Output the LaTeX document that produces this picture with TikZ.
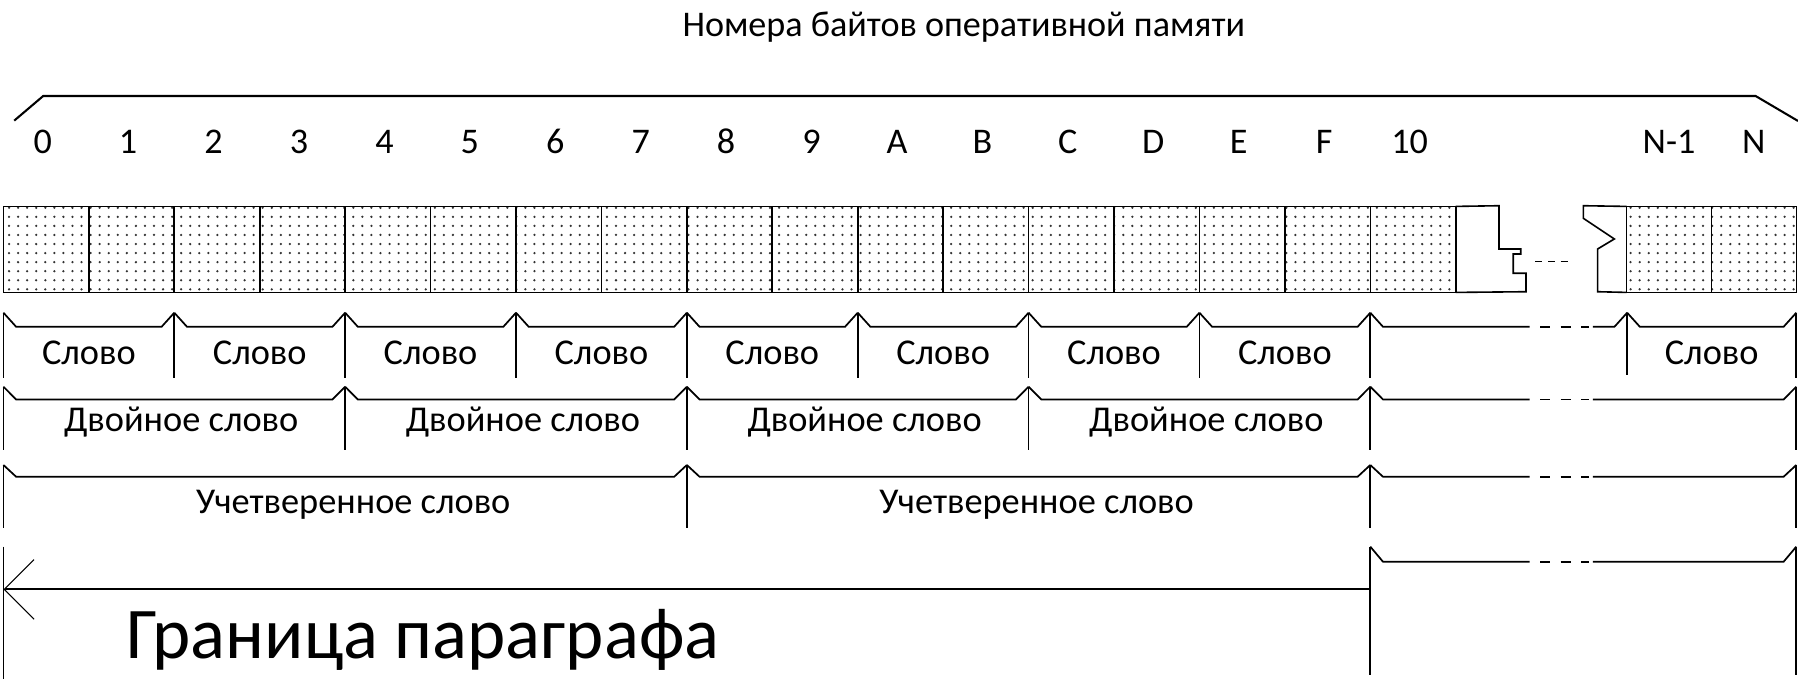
\documentclass[tikz,border=0pt]{standalone}
\usepackage{fontspec}
\setmainfont{Carlito}
\usetikzlibrary{positioning,patterns.meta,arrows.meta}

\tikzset{
	cell/.style={draw,line width=1.4pt,minimum width=74.5pt,minimum height=75pt,inner sep=0pt,outer sep=0pt,
		pattern={Dots[radius=1.1pt,distance=7.9pt]},pattern color=black!80},
	idx/.style={inner sep=0pt,font=\fontsize{31.5}{36}\selectfont},
	lbl/.style={inner sep=0pt,anchor=base,font=\fontsize{31.7}{36}\selectfont},
	brk/.style={line width=1.5pt,line join=miter},
	gap/.style={line width=1.5pt,dash pattern=on 9pt off 9pt}
}

% span of one unit: x1, x2, peak y, line y
\newcommand{\spanline}[4]{\draw[brk] ({#1},{#3}) -- ({#1+11},{#4}) -- ({#2-11},{#4}) -- ({#2},{#3});}
% vertical tick: x, top, bottom
\newcommand{\vtick}[3]{\draw[brk] ({#1},{#2}) -- ({#1},{#3});}
% right part after 10 with the gap: peak y, line y
\newcommand{\gapline}[2]{
	\draw[brk] (1195,#1) -- (1206,#2) -- (1334,#2);
	\draw[gap] (1343,#2) -- (1386,#2);
}
% right end after the gap: peak y, line y
\newcommand{\tailline}[2]{\draw[brk] (1389,#2) -- (1555.5,#2) -- (1566.5,#1);}

\begin{document}
\begin{tikzpicture}[x=1pt,y=-1pt]
	\useasboundingbox (0,0) rectangle (1568,592);

	\node[anchor=base,inner sep=0pt,font=\fontsize{31.5}{36}\selectfont] (title) at (840.5,32) {Номера байтов оперативной памяти};
	\draw[line width=1.8pt] (12.4,105.2) -- (37.7,83.7) -- (1531,83.7) -- (1568,105.5);

	% bytes
	\foreach \i/\t in {0/0,1/1,2/2,3/3,4/4,5/5,6/6,7/7,8/8,9/9,10/A,11/B,12/C,13/D,14/E,15/F,16/10}{
		\node[cell] (c\i) at ({3+74.5*\i+37.25},217.5) {};
		\node[idx,above=46pt of c\i,xshift=-3pt] (l\i) {\t};
	}
	\node[cell,minimum width=74pt] (cn1) at (1455.5,217.5) {};
	\node[cell,minimum width=74pt,right=0pt of cn1] (cn) {};
	\node[idx,above=46pt of cn1] (ln1) {N-1};
	\node[idx,above=46pt of cn] (ln) {N};

	% broken ends
	\draw[line width=1.4pt] (c16.north east) -- (1307.2,179.4) -- (1307.2,217.1) -- (1326.2,217.1) -- (1326.2,221.5)
		-- (1319.7,221.5) -- (1319.7,238.3) -- (1330.8,238.3) -- (1330.8,254.4) -- (c16.south east);
	\draw[line width=1.4pt] (cn1.north west) -- (1380.8,179.4) -- (1380.8,190.4) -- (1407.8,208.4) -- (1393.3,217.1)
		-- (1393.3,254.4) -- (cn1.south west);
	\draw[line width=1.4pt,dash pattern=on 6pt off 5pt] (1339,228) -- (1368,228);

	% words
	\foreach \k in {0,...,7}{
		\spanline{3+149*\k}{3+149*(\k+1)}{272.7}{284.9}
		\node[lbl] (w\k) at ({3+149*\k+74.5},318.3) {Слово};
	}
	\foreach \k in {0,...,8}{\vtick{3+149*\k}{272.7}{330}}
	\gapline{272.7}{284.9}
	\draw[brk] (1389,284.9) -- (1408,284.9) -- (1419,272.7);
	\vtick{1419}{272.7}{327}
	\spanline{1419}{1566.5}{272.7}{284.9}
	\vtick{1566.5}{272.7}{330}
	\node[lbl] (wn) at (1492.7,318.3) {Слово};

	% double words
	\foreach \k in {0,...,3}{
		\spanline{3+298*\k}{3+298*(\k+1)}{337.2}{348.3}
		\node[lbl] (d\k) at ({3+298*\k+155},376.4) {Двойное слово};
	}
	\foreach \k in {0,...,4}{\vtick{3+298*\k}{337.2}{392.4}}
	\gapline{337.2}{348.3}
	\tailline{337.2}{348.3}
	\vtick{1566.5}{337.2}{392.4}

	% quad words
	\foreach \k in {0,1}{
		\spanline{3+596*\k}{3+596*(\k+1)}{405.5}{415.7}
		\node[lbl] (q\k) at ({3+596*\k+305},447.6) {Учетверенное слово};
	}
	\foreach \k in {0,1,2}{\vtick{3+596*\k}{405.5}{460.8}}
	\gapline{405.5}{415.7}
	\tailline{405.5}{415.7}
	\vtick{1566.5}{405.5}{460.8}

	% paragraph
	\coordinate (pl) at (3,514);
	\coordinate (pr) at (1195,514);
	\vtick{3}{476.7}{592}
	\vtick{1195}{476.7}{588.7}
	\draw[line width=1.8pt,-{Straight Barb[length=26pt,width=52pt,line width=1pt]}] (pr) -- (pl);
	\gapline{476.7}{489.8}
	\tailline{476.7}{489.8}
	\vtick{1566.5}{476.7}{588.7}
	\node[anchor=base west,inner sep=0pt,font=\fontsize{63.5}{70}\selectfont] (par) at (110,574) {Граница параграфа};
\end{tikzpicture}
\end{document}
